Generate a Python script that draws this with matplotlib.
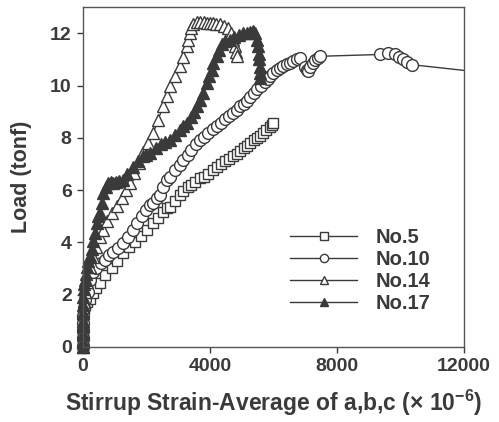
import matplotlib
matplotlib.use("Agg")
import matplotlib.pyplot as plt

plt.rcParams['font.family'] = ['Liberation Sans', 'DejaVu Sans']
plt.rcParams['font.weight'] = 'bold'
plt.rcParams['mathtext.fontset'] = 'custom'
plt.rcParams['mathtext.rm'] = 'Liberation Sans:bold'
plt.rcParams['mathtext.bf'] = 'Liberation Sans:bold'

# ---- data ----
x5 = [0, 0, 5, 10, 20, 40, 70, 120, 220, 325, 430, 535, 700, 904, 1080, 1270, 1450, 1638, 1820, 2006,
      2215, 2372, 2530, 2635, 2740, 2900, 3055, 3160, 3300, 3420, 3528, 3685, 3800, 3950, 4100, 4210,
      4350, 4480, 4600, 4735, 4850, 4960, 5080, 5160, 5260, 5380, 5480, 5580, 5680, 5780, 5880, 5950, 5995]
y5 = [0, 0.3, 0.6, 0.9, 1.2, 1.45, 1.6, 1.7, 1.85, 2.05, 2.25, 2.44, 2.75, 3.01, 3.3, 3.59, 3.82, 4.03, 4.25, 4.48,
      4.73, 4.93, 5.15, 5.3, 5.37, 5.6, 5.8, 5.95, 6.1, 6.2, 6.3, 6.45, 6.52, 6.62, 6.75, 6.9,
      7.0, 7.12, 7.2, 7.29, 7.4, 7.5, 7.62, 7.7, 7.8, 7.9, 8.0, 8.08, 8.18, 8.3, 8.42, 8.5, 8.57]

x10 = [0, 0, 5, 10, 20, 40, 80, 150, 220, 320, 430, 560, 693, 820, 955, 1110, 1270, 1420, 1585, 1720,
       1848, 1980, 2110, 2215, 2320, 2425, 2530, 2635, 2740, 2900, 3050, 3160, 3300, 3420, 3550, 3685,
       3800, 3950, 4100, 4210, 4350, 4480, 4600, 4735, 4850, 4950, 5060, 5155, 5260, 5375, 5480, 5600,
       5720, 5820, 5905, 5995, 6115, 6220, 6310, 6420, 6520, 6625, 6730, 6835, 7000, 7045, 7080, 7150,
       7230, 7320, 7400, 7465, 9355, 9600, 9825, 9950, 10090, 10200, 10350, 12000]
y10 = [0, 0.3, 0.6, 0.9, 1.2, 1.5, 1.8, 2.1, 2.57, 2.85, 3.01, 3.2, 3.33, 3.5, 3.65, 3.8, 3.97, 4.2, 4.48, 4.75,
       5.0, 5.22, 5.44, 5.5, 5.7, 5.82, 6.1, 6.4, 6.5, 6.75, 6.95, 7.16, 7.35, 7.55, 7.75, 7.93,
       8.05, 8.2, 8.32, 8.44, 8.58, 8.72, 8.85, 8.95, 9.08, 9.2, 9.3, 9.4, 9.55, 9.7, 9.85, 10.0,
       10.15, 10.25, 10.36, 10.48, 10.6, 10.68, 10.74, 10.82, 10.88, 10.93, 11.0, 11.06, 10.7, 10.6, 10.55, 10.7,
       10.85, 10.98, 11.06, 11.12, 11.19, 11.24, 11.19, 11.1, 11.0, 10.92, 10.8, 10.58]

x14 = [0, 0, 5, 10, 20, 40, 70, 120, 220, 320, 430, 535, 640, 770, 904, 1060, 1218, 1350, 1480, 1620,
       1760, 1900, 2050, 2215, 2370, 2530, 2640, 2740, 2900, 3055, 3160, 3265, 3320, 3370, 3420, 3480,
       3580, 3700, 3800, 3900, 4000, 4100, 4200, 4315, 4450, 4577, 4650, 4720, 4787, 4820, 4840]
y14 = [0, 0.3, 0.6, 0.9, 1.3, 1.7, 2.1, 2.5, 3.07, 3.45, 3.84, 4.2, 4.48, 4.8, 5.12, 5.4, 5.69, 6.0, 6.27, 6.65,
       7.05, 7.45, 7.8, 8.18, 8.7, 9.2, 9.6, 9.97, 10.35, 10.74, 11.1, 11.5, 11.75, 12.0, 12.2, 12.35,
       12.45, 12.45, 12.42, 12.4, 12.4, 12.38, 12.36, 12.34, 12.28, 12.2, 12.0, 11.75, 11.5, 11.3, 11.12]

x17 = [0, 0, 0, 5, 5, 10, 10, 20, 30, 45, 63, 90, 126, 170, 220, 280, 330, 378, 440, 490,
       535, 590, 640, 720, 800, 880, 955, 1050, 1150, 1260, 1400, 1575, 1750, 1900, 2000, 2110,
       2300, 2450, 2600, 2740, 2900, 3050, 3150, 3265, 3400, 3500, 3580, 3685, 3780, 3895, 3980,
       4050, 4100, 4210, 4300, 4380, 4480, 4630, 4750, 4900, 5050, 5155, 5250, 5355, 5430, 5470,
       5510, 5540, 5560, 5575, 5580, 5580]
y17 = [0, 0.2, 0.5, 0.8, 1.0, 1.3, 1.6, 1.9, 2.2, 2.4, 2.57, 2.8, 3.07, 3.3, 3.46, 3.75, 4.05, 4.36, 4.75, 5.0,
       5.12, 5.5, 5.88, 6.1, 6.27, 6.3, 6.27, 6.3, 6.35, 6.4, 6.6, 6.9, 7.1, 7.3, 7.35, 7.42,
       7.6, 7.75, 7.85, 7.93, 8.1, 8.3, 8.45, 8.57, 8.8, 9.0, 9.2, 9.46, 9.7, 10.1, 10.36,
       10.6, 10.85, 11.12, 11.35, 11.6, 11.7, 11.76, 11.85, 11.95, 12.0, 12.0, 12.05, 12.1, 12.0, 11.76,
       11.5, 11.2, 11.0, 10.7, 10.5, 10.3]

labels = ['No.5', 'No.10', 'No.14', 'No.17']
xticks = [0, 4000, 8000, 12000]
yticks = [0, 2, 4, 6, 8, 10, 12]

# ---- figure ----
ink = '#3a3a3a'
fig = plt.figure(figsize=(4.99, 4.22), dpi=100)
ax = fig.add_axes([0.166, 0.178, 0.764, 0.805])

common = dict(color=ink, lw=1.0, mew=1.0, clip_on=False)
ax.plot(x5, y5, marker='s', ms=7.5, mfc='white', mec=ink, label=labels[0], **common)
ax.plot(x10, y10, marker='o', ms=8.5, mfc='white', mec=ink, label=labels[1],
        markevery=list(range(len(x10) - 1)), **common)
ax.plot(x14, y14, marker='^', ms=8.5, mfc='white', mec=ink, label=labels[2], **common)
ax.plot(x17, y17, marker='^', ms=8.5, mfc=ink, mec=ink, label=labels[3], **common)

ax.set_xlim(0, 12000)
ax.set_ylim(0, 13)
ax.set_xticks(xticks)
ax.set_yticks(yticks)
ax.tick_params(direction='out', length=4, width=1, colors=ink, labelsize=14, pad=4)
for lab in ax.get_xticklabels() + ax.get_yticklabels():
    lab.set_fontweight('bold')
for s in ax.spines.values():
    s.set_color('#555555')
    s.set_linewidth(1.0)

ax.set_xlabel('Stirrup Strain-Average of a,b,c (× 10$^{-6}$)', fontsize=16.5,
              fontweight='bold', color=ink, labelpad=9)
ax.set_ylabel('Load (tonf)', fontsize=15.5, fontweight='bold', color=ink, labelpad=13)

leg = ax.legend(loc='upper left', bbox_to_anchor=(0.543, 0.35), frameon=False,
                borderpad=0, borderaxespad=0,
                handlelength=3.35, numpoints=1, markerscale=0.7, fontsize=14.5,
                labelspacing=0.15, handletextpad=0.93)
for t in leg.get_texts():
    t.set_color(ink)
    t.set_fontweight('bold')

fig.savefig('out.png', dpi=100)
